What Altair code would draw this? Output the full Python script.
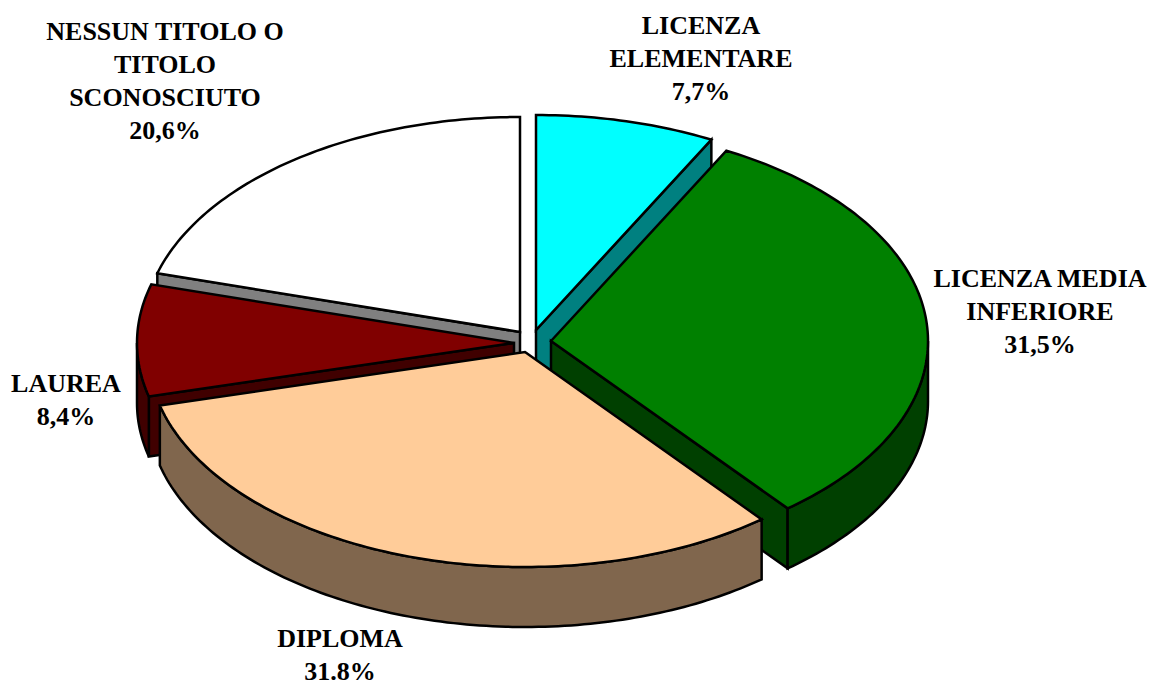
import numpy as np
import altair as alt

# Data
categories = ["LICENZA ELEMENTARE", "LICENZA MEDIA INFERIORE", "DIPLOMA", "LAUREA", "NESSUN TITOLO O TITOLO SCONOSCIUTO"]
shares = [7.7, 31.5, 31.8, 8.4, 20.6]
percent_labels = ["7,7%", "31,5%", "31.8%", "8,4%", "20,6%"]
label_lines = [
    ["LICENZA", "ELEMENTARE"],
    ["LICENZA MEDIA", "INFERIORE"],
    ["DIPLOMA"],
    ["LAUREA"],
    ["NESSUN TITOLO O", "TITOLO", "SCONOSCIUTO"],
]

# Styling and layout
top_colors = ["#00FFFF", "#008000", "#FFCC99", "#800000", "#FFFFFF"]
side_colors = ["#008080", "#004000", "#80664D", "#400000", "#808080"]
apexes = [(528, 322), (543, 333), (517, 344), (506, 335), (512, 324)]
label_pos = [(693, 18), (1032, 271), (332, 631), (58, 376), (157, 24)]
RX, RY, DEPTH = 377, 215, 60
FONT = "Liberation Serif"
FS = 26
LH = 33

def pt(a, t, dz=0):
    r = np.radians(t)
    return [float(a[0] + RX * np.sin(r)), float(a[1] - RY * np.cos(r) + dz)]

def arc(a, t0, t1, dz=0):
    n = max(2, int(abs(t1 - t0)) + 2)
    return [pt(a, t, dz) for t in np.linspace(t0, t1, n)]

def feature(ring, fill):
    ring = ring + [ring[0]]
    return {"type": "Feature", "geometry": {"type": "Polygon", "coordinates": [ring]}, "fill": fill}

def faces(i, t0, t1):
    a = apexes[i]
    sh, tp = side_colors[i], top_colors[i]
    out = []
    ab = [float(a[0]), float(a[1])]
    abd = [float(a[0]), float(a[1] + DEPTH)]
    # radial faces turned to the viewer
    if 0 < t1 % 360 < 180 and t1 - t0 < 180 and np.sin(np.radians(t1)) > 0:
        out.append(feature([ab, pt(a, t1), pt(a, t1, DEPTH), abd], sh))
    if 180 < t0 < 360:
        out.append(feature([ab, pt(a, t0), pt(a, t0, DEPTH), abd], sh))
    # outer rim, lower half only
    lo, hi = max(t0, 90), min(t1, 270)
    if lo < hi:
        out.append(feature(arc(a, lo, hi) + arc(a, hi, lo, DEPTH), sh))
    out.append(feature([ab] + arc(a, t0, t1), tp))
    return out

bounds = np.concatenate([[0], np.cumsum(shares)]) * 3.6
features = []
for i in [4, 0, 3, 1, 2]:
    features += faces(i, bounds[i], bounds[i + 1])

projection = alt.Projection(type="identity", scale=1, translate=[0, 0])

pie = alt.Chart(alt.Data(values=features)).mark_geoshape(
    stroke="black", strokeWidth=2.5, strokeJoin="miter"
).encode(fill=alt.Fill("fill:N", scale=None))

rows = []
for i, lines in enumerate(label_lines):
    x, y = label_pos[i]
    for k, s in enumerate(lines + [percent_labels[i]]):
        rows.append({"lon": x, "lat": y + k * LH, "t": s, "key": f"{i}-{k}"})

labels = alt.Chart(alt.Data(values=rows)).mark_text(
    font=FONT, fontSize=FS, fontWeight="bold", color="black", align="center", baseline="middle"
).encode(longitude="lon:Q", latitude="lat:Q", text="t:N")

chart = alt.layer(pie, labels).properties(
    width=1139, height=677, padding=0, projection=projection
).configure_view(stroke=None).configure(background="white")

chart.save("out.html", embed_options={"renderer": "svg", "actions": False})
